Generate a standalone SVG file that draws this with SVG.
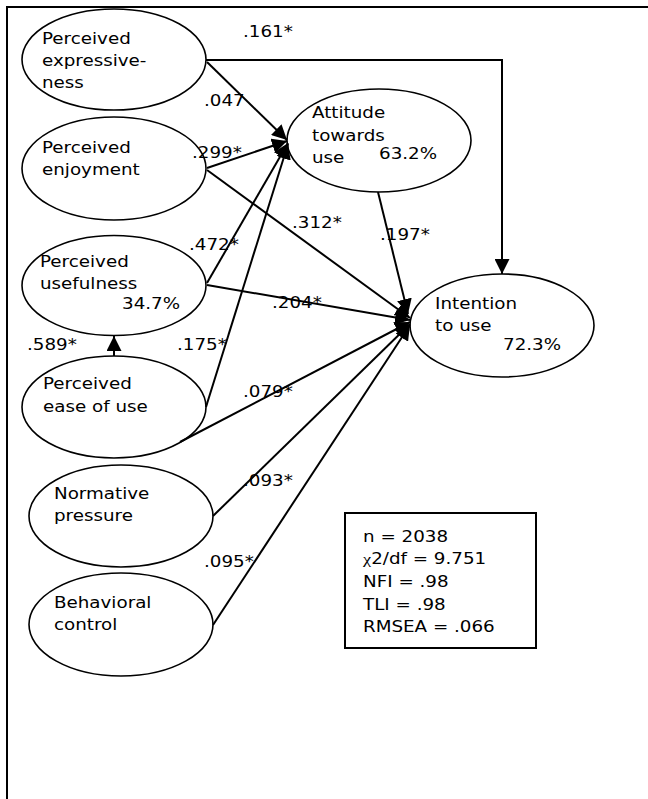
<svg xmlns="http://www.w3.org/2000/svg" width="648" height="799" viewBox="0 0 648 799">
<style>
.node ellipse{fill:#fff;stroke:#000;stroke-width:1.6}
text{font-family:"DejaVu Sans","Verdana",sans-serif;font-size:15.5px;fill:#000}
.conn path{fill:none;stroke:#000;stroke-width:2}
.frame{stroke:#000;stroke-width:2;fill:none}
</style>
<defs>
<marker id="ah" markerUnits="userSpaceOnUse" markerWidth="15" markerHeight="15" refX="15" refY="7.5" orient="auto">
<path d="M0,0 L15,7.5 L0,15 z" fill="#000"/>
</marker>
</defs>
<rect width="648" height="799" fill="#fff"/>
<path class="frame" d="M7,799 V7 H648"/>

<g id="expressiveness" class="node">
<ellipse cx="114" cy="59.5" rx="92" ry="50.5"/>
<text transform="matrix(1.18 0 0 1 42 44)"><tspan x="0" y="0">Perceived</tspan><tspan x="0" y="22">expressive-</tspan><tspan x="0" y="44">ness</tspan></text>
</g>
<g id="enjoyment" class="node">
<ellipse cx="114" cy="168.5" rx="92" ry="51.5"/>
<text transform="matrix(1.18 0 0 1 42 153)"><tspan x="0" y="0">Perceived</tspan><tspan x="0" y="22">enjoyment</tspan></text>
</g>
<g id="usefulness" class="node">
<ellipse cx="114" cy="285.5" rx="92" ry="50"/>
<text transform="matrix(1.18 0 0 1 40 267)"><tspan x="0" y="0">Perceived</tspan><tspan x="0" y="22">usefulness</tspan></text>
<text transform="matrix(1.18 0 0 1 122 309)">34.7%</text>
</g>
<g id="ease" class="node">
<ellipse cx="114" cy="407" rx="92" ry="51"/>
<text transform="matrix(1.18 0 0 1 43 389)"><tspan x="0" y="0">Perceived</tspan><tspan x="0" y="23">ease of use</tspan></text>
</g>
<g id="normative" class="node">
<ellipse cx="121" cy="516" rx="92" ry="51"/>
<text transform="matrix(1.18 0 0 1 54 499)"><tspan x="0" y="0">Normative</tspan><tspan x="0" y="22">pressure</tspan></text>
</g>
<g id="behavioral" class="node">
<ellipse cx="121" cy="624.5" rx="92" ry="51.5"/>
<text transform="matrix(1.18 0 0 1 54 608)"><tspan x="0" y="0">Behavioral</tspan><tspan x="0" y="22">control</tspan></text>
</g>
<g id="attitude" class="node">
<ellipse cx="379" cy="140.5" rx="92" ry="51.5"/>
<text transform="matrix(1.18 0 0 1 312 118)"><tspan x="0" y="0">Attitude</tspan><tspan x="0" y="23">towards</tspan><tspan x="0" y="45">use</tspan></text>
<text transform="matrix(1.18 0 0 1 379 159)">63.2%</text>
</g>
<g id="intention" class="node">
<ellipse cx="502" cy="325.5" rx="92" ry="51.5"/>
<text transform="matrix(1.18 0 0 1 435 309)"><tspan x="0" y="0">Intention</tspan><tspan x="0" y="22">to use</tspan></text>
<text transform="matrix(1.18 0 0 1 503 350)">72.3%</text>
</g>

<g id="labels">
<text transform="matrix(1.18 0 0 1 243 37)">.161*</text>
<text transform="matrix(1.18 0 0 1 204 106)">.047</text>
<text transform="matrix(1.18 0 0 1 192 158)">.299*</text>
<text transform="matrix(1.18 0 0 1 189 250)">.472*</text>
<text transform="matrix(1.18 0 0 1 292 228)">.312*</text>
<text transform="matrix(1.18 0 0 1 380 240)">.197*</text>
<text transform="matrix(1.18 0 0 1 272 308)">.204*</text>
<text transform="matrix(1.18 0 0 1 27 350)">.589*</text>
<text transform="matrix(1.18 0 0 1 177 350)">.175*</text>
<text transform="matrix(1.18 0 0 1 243 397)">.079*</text>
<text transform="matrix(1.18 0 0 1 243 486)">.093*</text>
<text transform="matrix(1.18 0 0 1 204 567)">.095*</text>
</g>

<g id="connectors" class="conn">
<path d="M206,60 H502 V274" marker-end="url(#ah)"/>
<path d="M207,62 L287,140" marker-end="url(#ah)"/>
<path d="M207,168 L287,141" marker-end="url(#ah)"/>
<path d="M207,283 L288,143" marker-end="url(#ah)"/>
<path d="M206,407 L288,144" marker-end="url(#ah)"/>
<path d="M114,356 V336" marker-end="url(#ah)"/>
<path d="M207,170 L410,318" marker-end="url(#ah)"/>
<path d="M378,192 L408,314" marker-end="url(#ah)"/>
<path d="M207,285 L410,320" marker-end="url(#ah)"/>
<path d="M180,442 L410,322" marker-end="url(#ah)"/>
<path d="M213,516 L410,324" marker-end="url(#ah)"/>
<path d="M213,625 L410,325" marker-end="url(#ah)"/>
</g>

<g id="stats">
<rect x="345" y="513" width="191" height="135" fill="#fff" stroke="#000" stroke-width="2"/>
<text transform="matrix(1.18 0 0 1 363 542)"><tspan x="0" y="0">n = 2038</tspan><tspan x="0" y="22.5"><tspan font-family="'Liberation Serif',serif">χ</tspan>2/df = 9.751</tspan><tspan x="0" y="45">NFI = .98</tspan><tspan x="0" y="68">TLI = .98</tspan><tspan x="0" y="90.5">RMSEA = .066</tspan></text>
</g>
</svg>
